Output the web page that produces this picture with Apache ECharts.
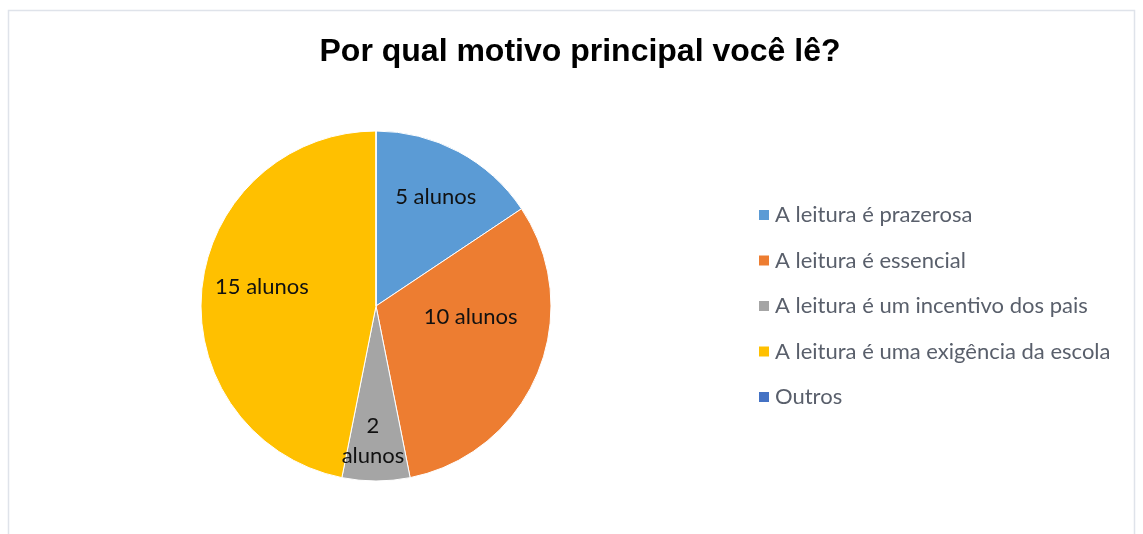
<!DOCTYPE html>
<html>
<head>
<meta charset="utf-8">
<script src="https://cdn.jsdelivr.net/npm/echarts@6/dist/echarts.min.js"></script>
<style>
  html, body { margin: 0; padding: 0; background: #fff; }
  #chart { width: 1143px; height: 534px; }
</style>
</head>
<body>
<div id="chart"></div>
<script>
// data
const categories = [
  'A leitura é prazerosa',
  'A leitura é essencial',
  'A leitura é um incentivo dos pais',
  'A leitura é uma exigência da escola',
  'Outros'
];
const students = [5, 10, 2, 15, 0];
const colors = ['#5B9BD5', '#ED7D31', '#A5A5A5', '#FFC000', '#4472C4'];

// nudges of the inside labels (Excel best-fit placement)
const labelShift = [[17, -29], [11, -24], [-3, 44], [-24, -10], [0, 0]];

const chart = echarts.init(document.getElementById('chart'));

const option = {
  backgroundColor: '#ffffff',
  animation: false,
  color: colors,
  title: {
    text: 'Por qual motivo principal você lê?',
    left: 575,
    top: 31,
    textAlign: 'center',
    textStyle: {
      fontFamily: 'Liberation Sans, Arial, sans-serif',
      fontWeight: 'bold',
      fontSize: 32,
      color: '#000000'
    }
  },
  graphic: [
    {
      type: 'rect',
      silent: true,
      shape: { x: 8.5, y: 10.5, width: 1126, height: 540 },
      style: { fill: null, stroke: '#dfe3ea', lineWidth: 1.5 }
    }
  ],
  legend: {
    orient: 'vertical',
    left: 757,
    top: 204,
    padding: 0,
    itemWidth: 12,
    itemHeight: 12,
    itemGap: 23.5,
    icon: 'rect',
    data: categories,
    textStyle: {
      fontFamily: 'Lato, Open Sans, sans-serif',
      fontSize: 22,
      lineHeight: 22,
      color: '#595f6b'
    }
  },
  series: [
    {
      type: 'pie',
      center: [376, 306],
      radius: 175,
      startAngle: 90,
      clockwise: true,
      minShowLabelAngle: 1,
      avoidLabelOverlap: false,
      data: categories.map((name, i) => ({ name, value: students[i] })),
      itemStyle: { borderColor: '#ffffff', borderWidth: 1 },
      label: {
        show: true,
        position: 'inside',
        fontFamily: 'Lato, Open Sans, sans-serif',
        fontSize: 22,
        lineHeight: 30,
        color: '#111111',
        formatter: (p) => (p.percent < 10 ? `${p.value}\nalunos` : `${p.value} alunos`)
      },
      labelLine: { show: false },
      labelLayout: (p) => {
        const s = labelShift[p.dataIndex] || [0, 0];
        return { dx: s[0], dy: s[1] };
      },
      emphasis: { disabled: true }
    }
  ]
};

chart.setOption(option);
</script>
</body>
</html>
